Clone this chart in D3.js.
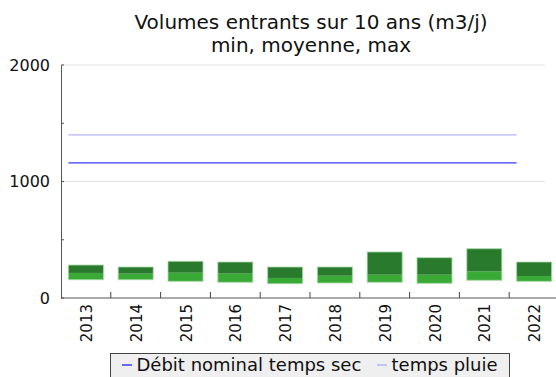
<!DOCTYPE html>
<html>
<head>
<meta charset="utf-8">
<script src="https://cdn.jsdelivr.net/npm/d3@7/dist/d3.min.js"></script>
<style>
  html, body { margin: 0; padding: 0; background: #fff; }
  svg { display: block; font-family: "DejaVu Sans", sans-serif; }
</style>
</head>
<body>
<svg id="chart" width="556" height="377"></svg>
<script>
// Yearly inflow volumes (m3/j): minimum, mean and maximum
const years = ["2013", "2014", "2015", "2016", "2017", "2018", "2019", "2020", "2021", "2022"];
const minValues  = [157, 157, 143, 135, 123, 129, 135, 126, 152, 143];
const meanValues = [215, 209, 217, 209, 172, 191, 200, 200, 229, 189];
const maxValues  = [283, 266, 315, 309, 266, 266, 395, 346, 423, 309];

// Reference capacities
const dryNominal = 1160;   // Débit nominal temps sec
const wetNominal = 1400;   // temps pluie

const yTicks = [0, 1000, 2000];
const yMinorTicks = [500, 1500];
const titleLines = ["Volumes entrants sur 10 ans (m3/j)", "min, moyenne, max"];

const svg = d3.select("#chart");
const plotLeft = 61, plotRight = 559, plotTop = 65, plotBottom = 298;

const x = d3.scaleBand().domain(years).range([plotLeft, plotRight]).paddingInner(0).paddingOuter(0);
const y = d3.scaleLinear().domain([0, 2000]).range([plotBottom, plotTop]);
const barW = 35;
const barOff = (x.bandwidth() - barW) / 2;

// gridlines
svg.append("g").selectAll("line").data([1000, 2000]).join("line")
  .attr("x1", plotLeft).attr("x2", 545)
  .attr("y1", d => y(d)).attr("y2", d => y(d))
  .attr("stroke", "#e2e2e2").attr("stroke-width", 1);

// bars: min -> mean (light), mean -> max (dark)
const data = years.map((yr, i) => ({ yr, min: minValues[i], mean: meanValues[i], max: maxValues[i] }));
const bars = svg.append("g");
bars.selectAll("rect.low").data(data).join("rect")
  .attr("class", "low")
  .attr("x", d => x(d.yr) + barOff)
  .attr("width", barW)
  .attr("y", d => y(d.mean))
  .attr("height", d => y(d.min) - y(d.mean))
  .attr("fill", "#3aaa36");
bars.selectAll("rect.high").data(data).join("rect")
  .attr("class", "high")
  .attr("x", d => x(d.yr) + barOff)
  .attr("width", barW)
  .attr("y", d => y(d.max))
  .attr("height", d => y(d.mean) - y(d.max))
  .attr("fill", "#2a7a2e");
bars.selectAll("rect.edge").data(data).join("rect")
  .attr("class", "edge")
  .attr("x", d => x(d.yr) + barOff)
  .attr("width", barW)
  .attr("y", d => y(d.max))
  .attr("height", d => y(d.min) - y(d.max))
  .attr("fill", "none")
  .attr("stroke", "#a8d8a6").attr("stroke-width", 1).attr("stroke-opacity", 0.8);

// nominal flow lines
const lineX1 = x(years[0]) + barOff;
const lineX2 = x(years[years.length - 1]) + barOff;
[[wetNominal, "#b4b4ff"], [dryNominal, "#3c3cff"]].forEach(([v, c]) => {
  svg.append("line")
    .attr("x1", lineX1).attr("x2", lineX2)
    .attr("y1", y(v)).attr("y2", y(v))
    .attr("stroke", c).attr("stroke-width", 1.3);
});

// y axis
const yAxis = d3.axisLeft(y).tickValues(yTicks).tickSize(0).tickPadding(11).tickFormat(d3.format("d"));
const gy = svg.append("g").attr("transform", `translate(${plotLeft},0)`).call(yAxis);
gy.select(".domain").attr("stroke", "#555");
gy.selectAll("text").attr("font-size", 16).attr("fill", "#111").attr("font-family", "DejaVu Sans");
svg.append("g").selectAll("line").data(yTicks.concat(yMinorTicks)).join("line")
  .attr("x1", plotLeft).attr("x2", plotLeft + 3)
  .attr("y1", d => y(d)).attr("y2", d => y(d))
  .attr("stroke", "#555");

// x axis with separators between years
const gx = svg.append("g").attr("transform", `translate(0,${plotBottom})`);
gx.append("line").attr("x1", plotLeft).attr("x2", 556).attr("y1", 0).attr("y2", 0).attr("stroke", "#555");
gx.selectAll("line.sep").data(years.slice(1)).join("line")
  .attr("class", "sep")
  .attr("x1", d => x(d)).attr("x2", d => x(d))
  .attr("y1", 0).attr("y2", -6).attr("stroke", "#444");
gx.selectAll("text").data(years).join("text")
  .attr("transform", d => `translate(${x(d) + x.bandwidth() / 2 + 6},6) rotate(-90)`)
  .attr("text-anchor", "end")
  .attr("font-size", 15)
  .attr("fill", "#111")
  .text(d => d);

// title
svg.append("g").selectAll("text").data(titleLines).join("text")
  .attr("x", 311).attr("y", (d, i) => 29 + i * 23)
  .attr("text-anchor", "middle")
  .attr("font-size", 20)
  .attr("fill", "#111")
  .text(d => d);

// legend
const lg = svg.append("g");
lg.append("rect").attr("x", 110.5).attr("y", 353.5).attr("width", 399).attr("height", 30)
  .attr("fill", "#efefef").attr("stroke", "#444");
const legendItems = [
  { label: "Débit nominal temps sec", color: "#3c3cff", x: 122 },
  { label: "temps pluie", color: "#b4b4ff", x: 377 }
];
legendItems.forEach(it => {
  lg.append("line").attr("x1", it.x).attr("x2", it.x + 10).attr("y1", 365).attr("y2", 365)
    .attr("stroke", it.color).attr("stroke-width", 1.5);
  lg.append("text").attr("x", it.x + 14.5).attr("y", 370.5).attr("font-size", 18).attr("fill", "#111").text(it.label);
});
</script>
</body>
</html>
